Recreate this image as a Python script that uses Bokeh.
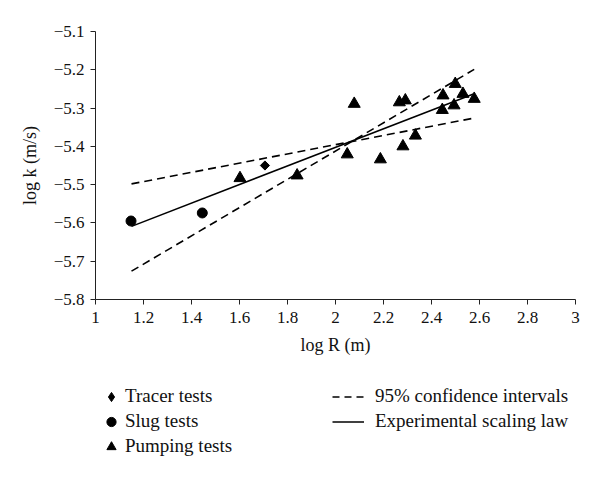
from bokeh.plotting import figure
from bokeh.layouts import column
from bokeh.models import Range1d, FixedTicker, Legend, LegendItem
from bokeh.embed import file_html
from bokeh.resources import INLINE

# ---- data ----
tracer_x = [1.706]
tracer_y = [-5.450]

slug_x = [1.148, 1.445]
slug_y = [-5.595, -5.574]

pump_x = [1.602, 1.840, 2.049, 2.078, 2.187, 2.266, 2.291, 2.281, 2.333,
          2.448, 2.445, 2.499, 2.494, 2.531, 2.578]
pump_y = [-5.483, -5.476, -5.421, -5.289, -5.434, -5.285, -5.280, -5.400, -5.372,
          -5.267, -5.305, -5.237, -5.293, -5.263, -5.276]

law_x = [1.15, 2.575]
law_y = [-5.609, -5.263]

ci_upper_x = [1.15, 2.578]
ci_upper_y = [-5.726, -5.199]
ci_lower_x = [1.15, 2.578]
ci_lower_y = [-5.498, -5.326]

x_ticks = [1.0, 1.2, 1.4, 1.6, 1.8, 2.0, 2.2, 2.4, 2.6, 2.8, 3.0]
x_tick_labels = ["1", "1.2", "1.4", "1.6", "1.8", "2", "2.2", "2.4", "2.6", "2.8", "3"]
y_ticks = [-5.8, -5.7, -5.6, -5.5, -5.4, -5.3, -5.2, -5.1]
y_tick_labels = ["\u22125.8", "\u22125.7", "\u22125.6", "\u22125.5", "\u22125.4",
                 "\u22125.3", "\u22125.2", "\u22125.1"]

legend_labels = ["Tracer tests", "Slug tests", "Pumping tests",
                 "95% confidence intervals", "Experimental scaling law"]

FONT = "Liberation Serif"
INK = "#111111"

# ---- main plot ----
p = figure(width=592, height=378, output_backend="svg", toolbar_location=None,
           x_range=Range1d(1, 3), y_range=Range1d(-5.8, -5.1),
           min_border_left=95, min_border_right=17, min_border_top=31,
           min_border_bottom=79)
p.outline_line_color = None
p.grid.visible = False
p.background_fill_color = "white"
p.border_fill_color = "white"

for ax in (p.xaxis[0], p.yaxis[0]):
    ax.axis_line_color = "#222222"
    ax.major_tick_line_color = "#222222"
    ax.minor_tick_line_color = None
    ax.major_tick_in = 0
    ax.major_tick_out = 5
    ax.major_label_text_font = FONT
    ax.major_label_text_font_size = "17px"
    ax.major_label_text_color = INK
    ax.axis_label_text_font = FONT
    ax.axis_label_text_font_size = "18px"
    ax.axis_label_text_font_style = "normal"
    ax.axis_label_text_color = INK

p.xaxis.ticker = FixedTicker(ticks=x_ticks)
p.yaxis.ticker = FixedTicker(ticks=y_ticks)
p.xaxis.major_label_overrides = dict(zip(x_ticks, x_tick_labels))
p.yaxis.major_label_overrides = dict(zip(y_ticks, y_tick_labels))
p.xaxis.major_label_standoff = 7
p.yaxis.major_label_standoff = 6
p.xaxis.axis_label = "log R (m)"
p.yaxis.axis_label = "log k (m/s)"
p.xaxis.axis_label_standoff = 9
p.yaxis.axis_label_standoff = 11

line_kw = dict(line_color="black", line_width=1.6)
dash_kw = dict(line_color="black", line_width=1.6, line_dash="8 5")
sl_kw = dict(marker="circle", size=10, fill_color="black", line_color="black")
pu_kw = dict(marker="triangle", size=12, fill_color="black", line_color="black")

p.line(ci_upper_x, ci_upper_y, **dash_kw)
p.line(ci_lower_x, ci_lower_y, **dash_kw)
p.line(law_x, law_y, **line_kw)
p.scatter(tracer_x, tracer_y, marker="square", angle=0.785398, size=6.5,
          fill_color="black", line_color="black")
p.scatter(slug_x, slug_y, **sl_kw)
p.scatter(pump_x, pump_y, **pu_kw)

# ---- legend strip (separate figure; its renderers lie outside its view) ----
q = figure(width=592, height=100, output_backend="svg", toolbar_location=None,
           x_range=Range1d(10, 11), y_range=Range1d(10, 11),
           x_axis_location=None, y_axis_location=None,
           min_border_left=95, min_border_right=17, min_border_top=0, min_border_bottom=0)
q.outline_line_color = None
q.grid.visible = False
q.border_fill_color = "white"

r_tr = q.scatter(tracer_x, tracer_y, marker="diamond", size=10, fill_color="black", line_color="black")
r_sl = q.scatter(slug_x, slug_y, **sl_kw)
r_pu = q.scatter(pump_x, pump_y, **pu_kw)
r_ci = q.line(ci_upper_x, ci_upper_y, line_color="black", line_width=1.4, line_dash="7 5")
r_law = q.line(law_x, law_y, line_color="black", line_width=1.4)

def make_legend(labels, rends, loc, gw, gh, standoff):
    return Legend(items=[LegendItem(label=l, renderers=[r]) for l, r in zip(labels, rends)],
                  location=loc, orientation="vertical",
                  glyph_width=gw, glyph_height=gh, label_height=25,
                  label_text_font=FONT, label_text_font_size="19px",
                  label_text_color=INK, label_standoff=standoff,
                  spacing=0, padding=0, margin=0,
                  border_line_color=None, background_fill_alpha=0)

q.add_layout(make_legend(legend_labels[:3], [r_tr, r_sl, r_pu], (2, 19.5), 28, 23, 0), "center")
q.add_layout(make_legend(legend_labels[3:], [r_ci, r_law], (237, 44.5), 32, 25, 11), "center")

layout = column(p, q, spacing=0)
open("out.html", "w").write(file_html(layout, INLINE))
